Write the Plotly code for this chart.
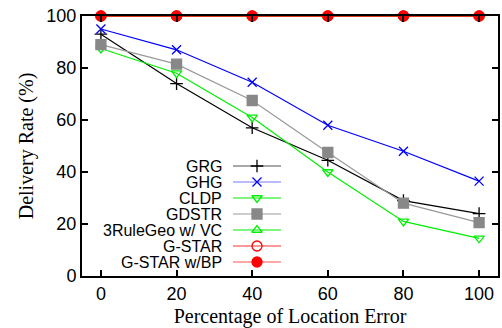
import plotly.graph_objects as go

x_err = [0, 20, 40, 60, 80, 100]
grg = [93, 74, 57, 44.5, 29, 24]
ghg = [95, 87, 74.5, 58, 48, 36.5]
cldp = [87.5, 78, 61, 40, 21, 14.5]
gdstr = [89, 81.5, 67.5, 47.5, 28, 20.5]
rule3 = [100, 100, 100, 100, 100, 100]
gstar = [100, 100, 100, 100, 100, 100]
gstar_bp = [100, 100, 100, 100, 100, 100]

names = ["GRG", "GHG", "CLDP", "GDSTR", "3RuleGeo w/ VC", "G-STAR", "G-STAR w/BP"]
series = [grg, ghg, cldp, gdstr, rule3, gstar, gstar_bp]
colors = ["#000000", "#0000ff", "#00ee00", "#888888", "#00ee00", "#ff0000", "#ff0000"]
symbols = ["cross-thin", "x-thin", "triangle-down-open", "square", "triangle-up-open", "circle-open", "circle"]
sizes = [9, 9, 9, 10, 9, 10, 10]

W, H = 502, 328
L, R, T, B = 82, 4, 16, 52

SANS = "Liberation Sans"
SERIF = "Liberation Serif"

fig = go.Figure()
for n, s, c, sym, sz in zip(names, series, colors, symbols, sizes):
    lc = "#999999" if n == "GDSTR" else c
    fig.add_trace(go.Scatter(
        x=x_err, y=s, mode="lines+markers", name=n, showlegend=False,
        line=dict(color=lc, width=1.2),
        marker=dict(symbol=sym, size=sz, color=c, line=dict(color=c, width=1.3)),
        cliponaxis=False,
    ))

# legend drawn in pixel coordinates on an overlay axis
row_y0, row_dy = 166, 16
text_right = 224
sx0, sx1, smid = 233, 281, 257
for i, (n, c, sym, sz) in enumerate(zip(names, colors, symbols, sizes)):
    yy = row_y0 + i * row_dy
    lc = {"GHG": "#7777ff", "GDSTR": "#999999", "G-STAR": "#ff3333", "G-STAR w/BP": "#ff5555"}.get(n, c)
    if n == "GRG":
        lc = "#555555"
    fig.add_trace(go.Scatter(x=[sx0, sx1], y=[yy, yy], mode="lines", xaxis="x2", yaxis="y2",
                             line=dict(color=lc, width=1.2), showlegend=False, hoverinfo="skip"))
    fig.add_trace(go.Scatter(x=[smid], y=[yy], mode="markers", xaxis="x2", yaxis="y2",
                             marker=dict(symbol=sym, size=sz, color=c, line=dict(color=c, width=1.3)),
                             showlegend=False, hoverinfo="skip", cliponaxis=False))
    fig.add_annotation(x=text_right, y=yy, xref="x2", yref="y2", text=n, showarrow=False,
                       xanchor="right", yanchor="middle",
                       font=dict(family=SANS, size=16, color="#000"))

fig.update_layout(
    width=W, height=H,
    margin=dict(l=L, r=R, t=T, b=B, autoexpand=False),
    paper_bgcolor="white", plot_bgcolor="white",
    showlegend=False,
    xaxis=dict(range=[-5, 105], tickvals=[0, 20, 40, 60, 80, 100], automargin=False,
               ticks="inside", ticklen=6, tickwidth=1.5, tickcolor="black",
               showline=True, linecolor="black", linewidth=2, mirror="ticks",
               showgrid=False, zeroline=False, ticklabeloverflow="allow",
               tickfont=dict(family=SANS, size=18, color="black"),
               title=dict(text="Percentage of Location Error", standoff=13,
                          font=dict(family=SERIF, size=20, color="black"))),
    yaxis=dict(range=[0, 100], tickvals=[0, 20, 40, 60, 80, 100], automargin=False,
               ticks="inside", ticklen=6, tickwidth=1.5, tickcolor="black",
               showline=True, linecolor="black", linewidth=2, mirror="ticks",
               showgrid=False, zeroline=False, ticklabeloverflow="allow",
               tickfont=dict(family=SANS, size=18, color="black"),
               title=dict(text="Delivery Rate (%)", standoff=7,
                          font=dict(family=SERIF, size=20, color="black"))),
    xaxis2=dict(range=[L, W - R], overlaying="x", visible=False, fixedrange=True),
    yaxis2=dict(range=[H - B, T], overlaying="y", visible=False, fixedrange=True),
)

fig.write_html("out.html", config={"displayModeBar": False},
               post_script="document.body.style.margin='0';")
